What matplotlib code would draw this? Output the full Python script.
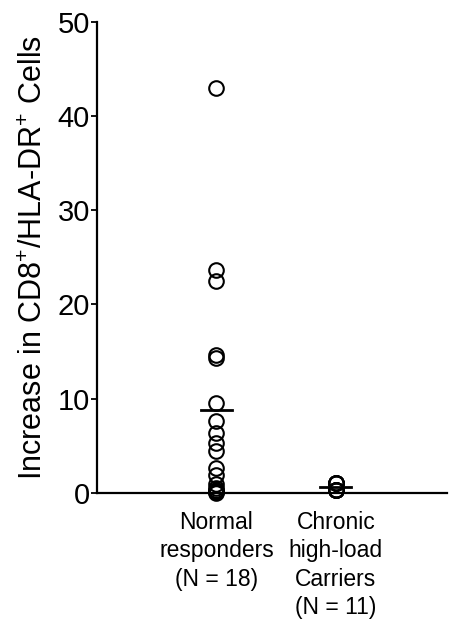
import numpy as np
import matplotlib.pyplot as plt
import matplotlib as mpl

mpl.rcParams.update({
    "font.family": "Liberation Sans",
    "mathtext.fontset": "custom",
    "mathtext.rm": "Liberation Sans",
    "mathtext.it": "Liberation Sans",
    "mathtext.bf": "Liberation Sans",
})

# ---------- data ----------
groups = ["Normal\nresponders\n(N = 18)", "Chronic\nhigh-load\nCarriers\n(N = 11)"]
normal = [43.0, 23.6, 22.5, 14.6, 14.3, 9.5, 7.6, 6.4, 5.3, 4.4,
          2.6, 1.9, 0.9, 0.5, 0.3, 0.2, 0.1, 0.0]
chronic = [1.0, 1.0, 1.0, 1.0, 1.0, 0.3, 0.3, 0.3, 0.3, 0.3, 0.3]
means = [np.mean(normal), np.mean(chronic)]
yticks = [0, 10, 20, 30, 40, 50]

fig = plt.figure(figsize=(4.51, 6.23), dpi=100)
ax = fig.add_axes([0.215, 0.209, 0.776, 0.756])

for i, vals in enumerate([normal, chronic]):
    xpos = np.full(len(vals), i + 1)
    ax.plot(xpos, vals, "o", mfc="none", mec="black", mew=1.5,
            ms=10.5, linestyle="none", clip_on=False, zorder=3)
    ax.plot([i + 1 - 0.13, i + 1 + 0.13], [means[i], means[i]],
            color="black", lw=2, zorder=4, clip_on=False)

ax.set_xlim(0.0, 2.93)
ax.set_ylim(0, 50)
ax.set_yticks(yticks)
ax.set_xticks([1, 2])
ax.set_xticklabels(groups, fontsize=16.5, linespacing=1.3, va="top")
ax.tick_params(axis="x", length=0, pad=13)
ax.tick_params(axis="y", direction="out", length=4, width=1.3, labelsize=21, pad=1)

ax.spines["top"].set_visible(False)
ax.spines["right"].set_visible(False)
ax.spines["left"].set_linewidth(1.6)
ax.spines["bottom"].set_linewidth(1.6)

ax.set_ylabel("Increase in CD8$^{+}$/HLA-DR$^{+}$ Cells", fontsize=22, labelpad=6)

fig.savefig("out.png", dpi=100, facecolor="white")
